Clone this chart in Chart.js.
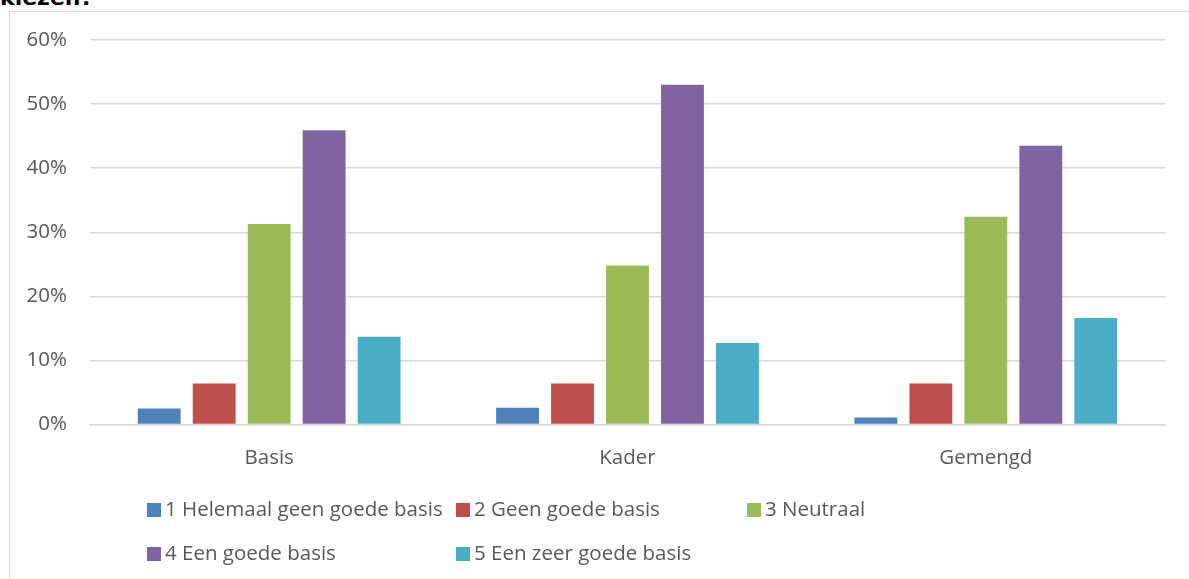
<!DOCTYPE html>
<html>
<head>
<meta charset="utf-8">
<script src="https://cdn.jsdelivr.net/npm/chart.js@4.4.1/dist/chart.umd.min.js"></script>
<style>
  html, body { margin: 0; padding: 0; background: #ffffff; overflow: hidden; }
  #wrap { position: relative; width: 1189px; height: 579px; }
  #title { position: absolute; left: 0; top: -13px; font: bold 22px "DejaVu Sans", Verdana, sans-serif; line-height: 22px; color: #000; white-space: nowrap; }
  #frame { position: absolute; left: 9px; top: 11px; width: 1300px; height: 700px; border-left: 1px solid #d9d9d9; border-top: 1px solid #d9d9d9; }
  canvas { position: absolute; left: 0; top: 0; }
</style>
</head>
<body>
<div id="wrap">
  <div id="title">kiezen?</div>
  <div id="frame"></div>
  <canvas id="c" width="1189" height="579"></canvas>
</div>
<script>
const categories = ["Basis", "Kader", "Gemengd"];
const seriesNames = [
  "1 Helemaal geen goede basis",
  "2 Geen goede basis",
  "3 Neutraal",
  "4 Een goede basis",
  "5 Een zeer goede basis"
];
const helemaalGeen = [2.5, 2.6, 1.1];
const geenGoede   = [6.4, 6.4, 6.4];
const neutraal    = [31.3, 24.8, 32.4];
const goede       = [45.9, 53.0, 43.5];
const zeerGoede   = [13.7, 12.7, 16.6];
const seriesColors = ["#4f81bd", "#c0504d", "#9bbb59", "#8064a2", "#4bacc6"];
const yTicks = [0, 10, 20, 30, 40, 50, 60];

const allValues = [helemaalGeen, geenGoede, neutraal, goede, zeerGoede];
const FONT = '"Open Sans", "Noto Sans", sans-serif';
const FSIZE = 20.5;
const TEXT = '#595959';

const gridLegend = {
  id: 'gridLegend',
  afterDraw(chart) {
    const ctx = chart.ctx;
    const cols = [147, 456, 747];
    const rows = [510, 554];
    ctx.save();
    ctx.font = FSIZE + 'px ' + FONT;
    ctx.textBaseline = 'middle';
    ctx.textAlign = 'left';
    chart.data.datasets.forEach((ds, i) => {
      const x = cols[i % 3];
      const y = rows[Math.floor(i / 3)];
      ctx.fillStyle = ds.backgroundColor;
      ctx.fillRect(x, y - 7, 14, 14);
      ctx.fillStyle = TEXT;
      ctx.fillText(ds.label, x + 18, y);
    });
    ctx.restore();
  }
};

new Chart(document.getElementById('c'), {
  type: 'bar',
  data: {
    labels: categories,
    datasets: seriesNames.map((name, i) => ({
      label: name,
      data: allValues[i],
      backgroundColor: seriesColors[i],
      borderWidth: 0,
      barPercentage: 0.78,
      categoryPercentage: 0.767
    }))
  },
  options: {
    responsive: false,
    animation: false,
    devicePixelRatio: 1,
    layout: { padding: { left: 0, right: 24, top: 40, bottom: 0 } },
    plugins: {
      legend: { display: false },
      tooltip: { enabled: false },
      title: { display: false }
    },
    scales: {
      x: {
        grid: { display: false, drawTicks: false },
        border: { display: true, color: '#d9d9d9', width: 1.5 },
        ticks: { color: TEXT, font: { family: FONT, size: FSIZE }, padding: 21 },
        afterFit(scale) { scale.height = 154.5; }
      },
      y: {
        min: 0,
        max: 60,
        afterBuildTicks(scale) { scale.ticks = yTicks.map(v => ({ value: v })); },
        grid: { color: '#d9d9d9', lineWidth: 1.5, drawTicks: false },
        border: { display: false },
        ticks: {
          color: TEXT,
          font: { family: FONT, size: FSIZE },
          padding: 23,
          callback: v => v + '%'
        },
        afterFit(scale) { scale.width = 90; }
      }
    }
  },
  plugins: [gridLegend]
});
</script>
</body>
</html>
